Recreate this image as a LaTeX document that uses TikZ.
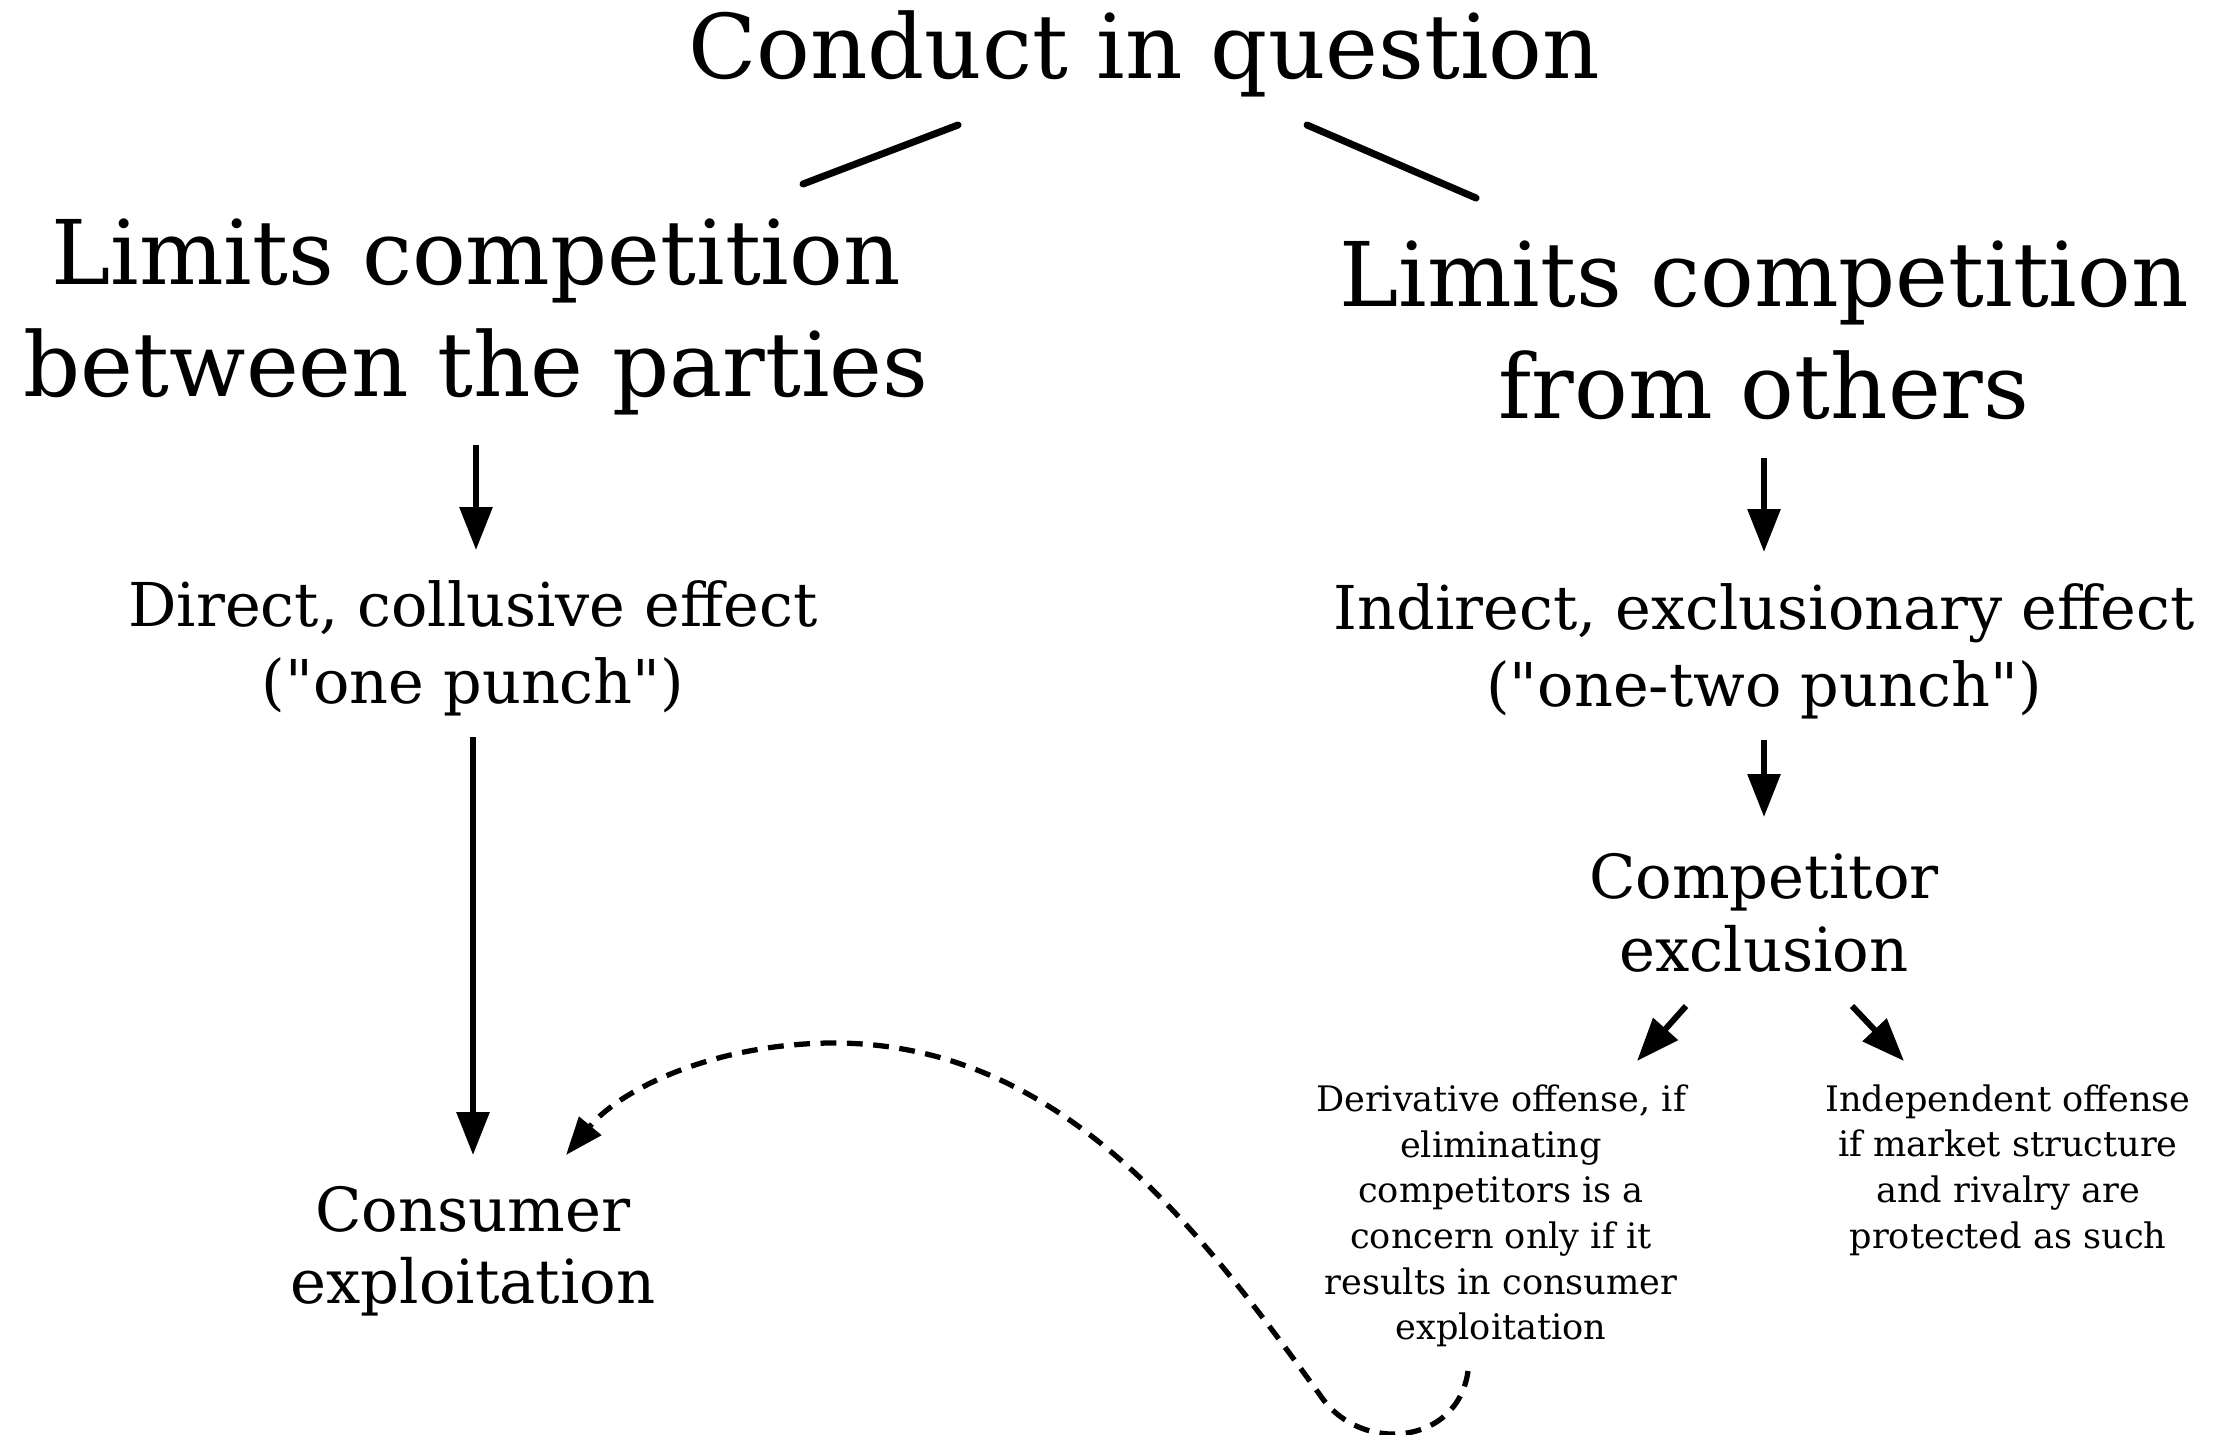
\documentclass[tikz,border=0pt]{standalone}
\usepackage{fontspec}
\setmainfont{DejaVu Serif}
\newfontfamily\qfont{DejaVu Serif}
\usetikzlibrary{arrows.meta}
\newcommand{\dq}{{\qfont\char"22}}
\begin{document}
\begin{tikzpicture}[
  bigtxt/.style={align=center,inner sep=0pt,font=\fontsize{25.4}{31.8}\selectfont},
  midtxt/.style={align=center,inner sep=0pt,font=\fontsize{17.2}{22}\selectfont},
  cmtxt/.style={align=center,inner sep=0pt,font=\fontsize{17.3}{20.6}\selectfont},
  smalltxt/.style={align=center,inner sep=0pt,font=\fontsize{10}{13}\selectfont},
  tie/.style={line width=2pt,line cap=round},
  arr/.style={line width=1.7pt,-{Triangle[length=0.43cm,width=0.32cm]}},
  dasharr/.style={line width=1.5pt,dash pattern=on 4.5pt off 3pt,-{Triangle[length=0.38cm,width=0.28cm]}}
]
\useasboundingbox (0,0) rectangle (22.21,-14.34);
\node[bigtxt] (cq) at (11.44,-0.54) {Conduct in question};
\node[bigtxt] (lh) at (4.76,-3.17) {Limits competition\\between the parties};
\node[bigtxt] (rh) at (17.64,-3.30) {Limits competition\\from others};
\node[midtxt] (dir) at (4.73,-6.48) {Direct, collusive effect\\(\dq one punch\dq)};
\node[midtxt] (ind) at (17.64,-6.51) {Indirect, exclusionary effect\\(\dq one-two punch\dq)};
\node[cmtxt] (ce) at (17.64,-9.13) {Competitor\\exclusion};
\node[cmtxt] (cx) at (4.73,-12.51) {Consumer\\exploitation};
\node[smalltxt] (der) at (15.01,-12.16) {Derivative offense, if\\eliminating\\competitors is a\\concern only if it\\results in consumer\\exploitation};
\node[smalltxt] (indep) at (20.08,-11.70) {Independent offense\\if market structure\\and rivalry are\\protected as such};
% connector end points
\coordinate (l1) at (9.58,-1.25);
\coordinate (l2) at (8.03,-1.84);
\coordinate (r1) at (13.07,-1.25);
\coordinate (r2) at (14.76,-1.98);
\coordinate (a1) at (4.76,-4.45);
\coordinate (a2) at (4.76,-5.50);
\coordinate (b1) at (17.64,-4.58);
\coordinate (b2) at (17.64,-5.52);
\coordinate (c1) at (4.73,-7.37);
\coordinate (c2) at (4.73,-11.55);
\coordinate (d1) at (17.64,-7.40);
\coordinate (d2) at (17.64,-8.17);
\coordinate (e1) at (16.86,-10.06);
\coordinate (e2) at (16.37,-10.61);
\coordinate (f1) at (18.52,-10.06);
\coordinate (f2) at (19.04,-10.61);
\coordinate (g1) at (14.68,-13.71);
\coordinate (g2) at (5.66,-11.55);
\draw[tie] (l1) -- (l2);
\draw[tie] (r1) -- (r2);
\draw[arr] (a1) -- (a2);
\draw[arr] (b1) -- (b2);
\draw[arr] (c1) -- (c2);
\draw[arr] (d1) -- (d2);
\draw[arr] (e1) -- (e2);
\draw[arr] (f1) -- (f2);
\draw[dasharr] (g1) .. controls (14.58,-14.45) and (13.60,-14.55) .. (13.20,-13.95)
  .. controls (12.0,-12.3) and (10.6,-10.40) .. (8.28,-10.43)
  .. controls (7.1,-10.45) and (6.2,-10.9) .. (g2);
\end{tikzpicture}
\end{document}
